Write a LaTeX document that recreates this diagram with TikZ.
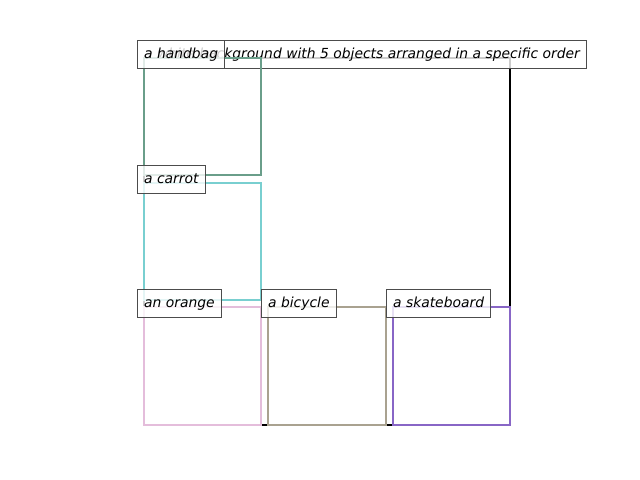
\documentclass[tikz,border=0pt]{standalone}
\usepackage{fontspec}
\setmainfont{DejaVu Sans}
\definecolor{bagcol}{HTML}{6A9E8A}
\definecolor{carrotcol}{HTML}{79CFD0}
\definecolor{orangecol}{HTML}{E4BDDB}
\definecolor{bikecol}{HTML}{A9A290}
\definecolor{skatecol}{HTML}{8866C6}
\tikzset{
  tag/.style={draw=black!70, line width=0.5pt, fill=white, fill opacity=0.8, text opacity=1,
    anchor=west, inner xsep=3.8pt, inner ysep=0pt, text height=6.7pt, text depth=1.1pt,
    minimum height=15.9pt, font=\fontsize{7.9}{9.5}\selectfont\itshape},
  objbox/.style={line width=1.4pt}
}
\begin{document}
\begin{tikzpicture}[x=0.02cm, y=-0.02cm]
\useasboundingbox (0,0) rectangle (640,480);
\draw[objbox, black] (144,58) rectangle (510,425);
\node[tag] (scene) at (137,54) {a white background with 5 objects arranged in a specific order};
\draw[objbox, bagcol] (144,58) rectangle (261,175);
\node[tag] (bag) at (137,54) {a handbag};
\draw[objbox, carrotcol] (144,183) rectangle (261,300);
\node[tag] (carrot) at (137,179) {a carrot};
\draw[objbox, orangecol] (144,307) rectangle (261,425);
\node[tag] (orange) at (137,303) {an orange};
\draw[objbox, bikecol] (268,307) rectangle (386,425);
\node[tag] (bike) at (261,303) {a bicycle};
\draw[objbox, skatecol] (393,307) rectangle (510,425);
\node[tag] (skate) at (386,303) {a skateboard};
\end{tikzpicture}
\end{document}
